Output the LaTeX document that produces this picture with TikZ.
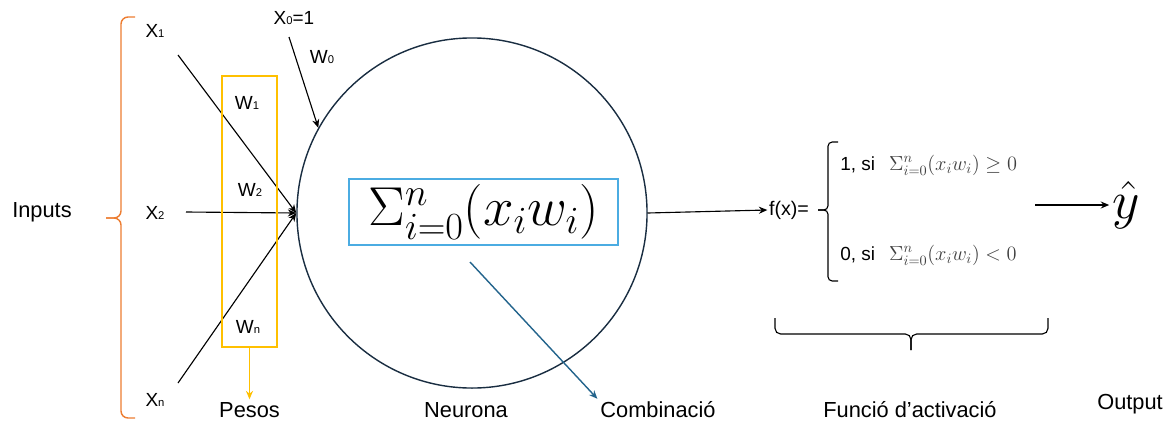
\RequirePackage{fix-cm}
\documentclass[tikz,border=0pt]{standalone}
\usepackage[no-math]{fontspec}
\setmainfont{Liberation Sans}
\usepackage{amsmath,amssymb}
\usetikzlibrary{arrows.meta,positioning,decorations.pathreplacing,calc}
\definecolor{braceorange}{RGB}{237,125,49}
\definecolor{weightgold}{RGB}{255,192,0}
\definecolor{sumblue}{RGB}{75,172,226}
\definecolor{neurondark}{RGB}{25,45,65}
\definecolor{combteal}{RGB}{35,100,140}
\newcommand{\lbl}[2]{#1{\fontsize{8}{8}\selectfont #2}}
\newcommand{\sumxw}{\Sigma_{i=0}^{n}(x_iw_i)}

\begin{document}
\begin{tikzpicture}[x=0.025cm,y=-0.025cm,font=\fontsize{14}{16}\selectfont,>={Stealth[length=6pt,width=5pt]},
  var/.style={inner sep=1pt,font=\fontsize{13.5}{15}\selectfont},
  caption/.style={inner sep=2pt,font=\fontsize{15.5}{18}\selectfont},
  cond/.style={anchor=west,inner sep=0pt,font=\fontsize{13.5}{15}\selectfont}]
  \useasboundingbox (0,0) rectangle (1173,423);

  % inputs
  \node[caption] (inputs) at (42,212) {Inputs};
  \draw[braceorange,line width=1pt,rounded corners=5pt] (135,17) -- (121,17) -- (121,218) -- (106,218);
  \draw[braceorange,line width=1pt,rounded corners=5pt] (135,418) -- (121,418) -- (121,218) -- (106,218);
  \node[var] (x1) at (155,31) {\lbl{X}{1}};
  \node[var] (x2) at (155,213) {\lbl{X}{2}};
  \node[var] (xn) at (155,400) {\lbl{X}{n}};
  \coordinate (x1s) at (178,55);
  \coordinate (x2s) at (186,212);
  \coordinate (xns) at (178,383);

  % neuron
  \node[draw=neurondark,line width=1pt,circle,minimum size=8.75cm,inner sep=0pt] (neuron) at (472,213) {};
  \coordinate (junc) at (neuron.west);
  \draw[->,line width=0.8pt] (x1s) -- (junc);
  \draw[->,line width=0.8pt] (x2s) -- (junc);
  \draw[->,line width=0.8pt] (xns) -- (junc);
  \node[var] (x0) at (294,18) {\lbl{X}{0}=1};
  \node[var] (w0) at (322,57) {\lbl{W}{0}};
  \coordinate (x0s) at (289,37);
  \draw[->,line width=0.8pt] (x0s) -- (neuron.151);

  % weights
  \node[draw=weightgold,line width=1pt,minimum width=1.375cm,minimum height=6.775cm,inner sep=0pt] (wbox) at (249.5,211.5) {};
  \node[var] (w1) at (247,103) {\lbl{W}{1}};
  \node[var] (w2) at (250,190) {\lbl{W}{2}};
  \node[var] (wn) at (248,327) {\lbl{W}{n}};
  \node[caption] (pesos) at (249.5,410) {Pesos};
  \draw[->,weightgold,line width=1pt] (wbox.south) -- (pesos.north);

  % combination
  \node[draw=sumblue,line width=1pt,minimum width=6.725cm,minimum height=1.65cm,inner sep=0pt] (sumbox) at (483.5,212)
     {\fontsize{39}{42}\selectfont$\sumxw$};
  \node[caption] (neurona) at (466,410) {Neurona};
  \node[caption] (comb) at (658,410) {Combinació};
  \coordinate (combs) at (470,262);
  \draw[->,combteal,line width=1pt] (combs) -- (comb.north west);

  % activation
  \node[font=\fontsize{14}{16}\selectfont,inner sep=1pt] (fx) at (789,210) {f(x)=};
  \draw[->,line width=0.8pt] (neuron.east) -- (fx.west);
  \draw[line width=0.8pt,rounded corners=3pt] (838,142) -- (828,142) -- (828,210) -- (818,210);
  \draw[line width=0.8pt,rounded corners=3pt] (838,281) -- (828,281) -- (828,210) -- (818,210);
  \node[cond] (pos) at (840,165) {1, si\hspace{10pt}{\color{black!75}\fontsize{14.5}{16}\selectfont$\sumxw\geq 0$}};
  \node[cond] (neg) at (840,255) {0, si\hspace{10pt}{\color{black!75}\fontsize{14.5}{16}\selectfont$\sumxw<0$}};
  \draw[line width=0.8pt,rounded corners=4pt] (775,318) -- (775,334) -- (911,334) -- (911,350);
  \draw[line width=0.8pt,rounded corners=4pt] (1048,318) -- (1048,334) -- (911,334) -- (911,350);
  \node[caption] (act) at (910,410) {Funció d’activació};

  % output
  \node[inner sep=2pt] (yhat) at (1126,205) {\fontsize{38}{40}\selectfont$\hat{y}$};
  \coordinate (ys) at (1035,205);
  \draw[->,line width=0.8pt] (ys) -- (yhat.west);
  \node[caption] (out) at (1130,404) {Output};
\end{tikzpicture}
\end{document}
